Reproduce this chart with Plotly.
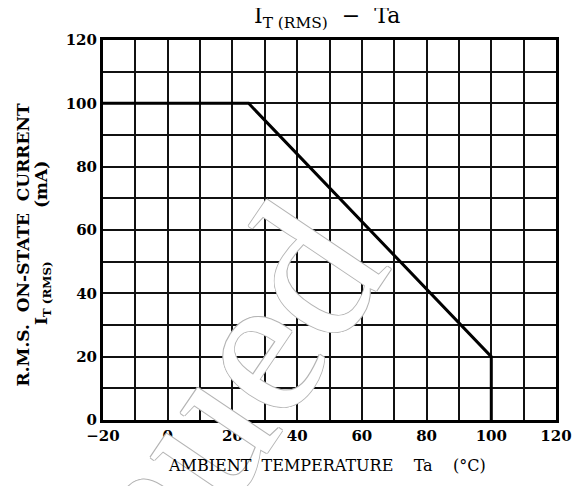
import plotly.graph_objects as go

# derating curve: IT(RMS) vs ambient temperature
ta = [-20, 25, 100, 100]
it_rms = [100, 100, 20, 0]

x_ticks = [-20, 0, 20, 40, 60, 80, 100, 120]
x_ticktext = ["\u221220", "0", "20", "40", "60", "80", "100", "120"]
y_ticks = [0, 20, 40, 60, 80, 100, 120]

serif = "DejaVu Serif"

fig = go.Figure()
fig.add_trace(go.Scatter(
    x=ta, y=it_rms, mode="lines",
    line=dict(color="black", width=3),
    showlegend=False, hoverinfo="skip",
))

grid = dict(showgrid=True, gridcolor="#111", gridwidth=1.5)
fig.update_xaxes(
    range=[-20, 120], tickvals=x_ticks, ticktext=x_ticktext,
    showline=True, mirror=True, linecolor="black", linewidth=3,
    ticks="", zeroline=False,
    tickfont=dict(family=serif, size=15, color="black", weight="bold"),
    minor=dict(dtick=10, showgrid=True, gridcolor="#111", gridwidth=1.5),
    **grid,
)
fig.update_yaxes(
    range=[0, 120], tickvals=y_ticks,
    showline=True, mirror=True, linecolor="black", linewidth=3,
    ticks="", zeroline=False,
    tickfont=dict(family=serif, size=15, color="black", weight="bold"),
    minor=dict(dtick=10, showgrid=True, gridcolor="#111", gridwidth=1.5),
    **grid,
)

outline = "1px 0 0 #b4b4b4, -1px 0 0 #b4b4b4, 0 1px 0 #b4b4b4, 0 -1px 0 #b4b4b4"
common = dict(xref="paper", yref="paper", showarrow=False,
              xanchor="center", yanchor="middle")
annotations = [
    # "Discontinued" stamp across the chart
    dict(text="Discontinued", x=-0.163, y=-0.689, textangle=-56,
         font=dict(family="Liberation Sans Narrow", size=205, color="white", shadow=outline),
         **common),
    dict(text="I<sub>T (RMS)</sub>  \u2212  Ta", x=0.495, y=1.06,
         font=dict(family=serif, size=22, color="black"), **common),
    dict(text="AMBIENT  TEMPERATURE    Ta    (\u00b0C)", x=0.495, y=-0.121,
         font=dict(family=serif, size=16, color="black"), **common),
    dict(text="R.M.S.  ON-STATE  CURRENT", x=-0.176, y=0.46, textangle=-90,
         font=dict(family=serif, size=17, color="black", weight="bold"), **common),
    dict(text="I<sub>T (RMS)</sub>         (mA)", x=-0.132, y=0.466, textangle=-90,
         font=dict(family=serif, size=17, color="black", weight="bold"), **common),
]

# page body adds 8px margin, so the figure is a bit smaller than the window
fig.update_layout(
    width=576, height=478,
    margin=dict(l=95, r=26, t=32, b=66),
    paper_bgcolor="white", plot_bgcolor="white",
    annotations=annotations,
)

fig.write_html("out.html")
